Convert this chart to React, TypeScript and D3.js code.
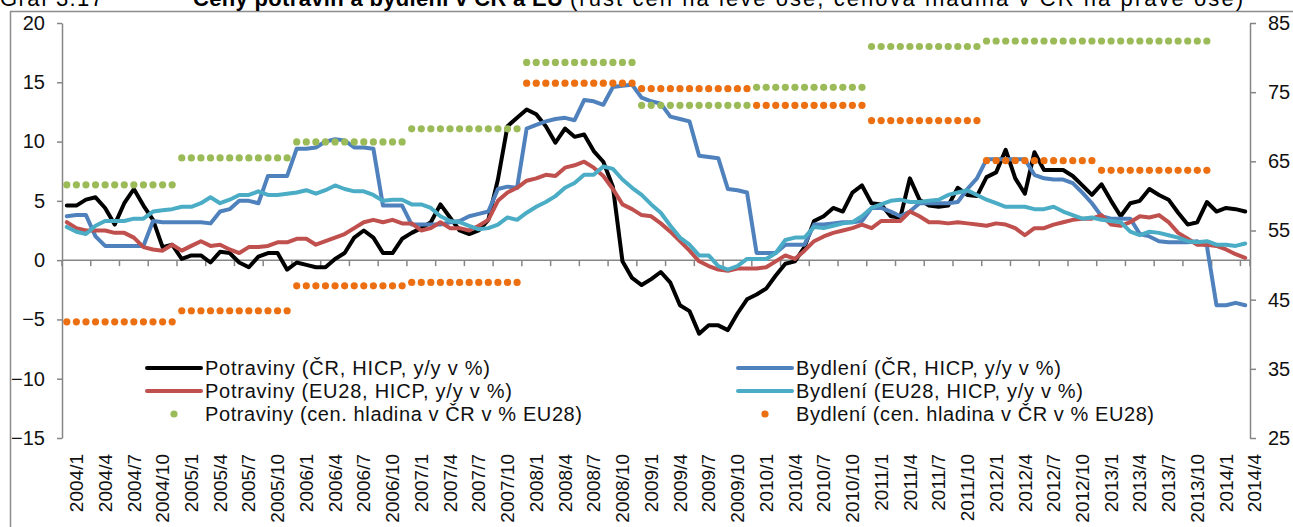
import React, { useEffect, useRef } from 'react';
import * as d3 from 'd3';

// monthly categories 2004/1 .. 2014/4
const months: string[] = [];
for (let y = 2004; y <= 2014; y++) {
  for (let m = 1; m <= 12; m++) {
    if (y === 2014 && m > 4) break;
    months.push(`${y}/${m}`);
  }
}

// y/y growth, % (left axis)
const potravinyCR = [
  4.6, 4.6, 5.1, 5.3, 4.4, 3.0, 4.8, 6.0, 4.6, 3.4,
  1.1, 1.3, 0.1, 0.4, 0.4, -0.2, 0.7, 0.6, -0.2, -0.6,
  0.3, 0.6, 0.6, -0.8, -0.2, -0.4, -0.6, -0.6, 0.1, 0.6,
  1.9, 2.5, 1.9, 0.6, 0.6, 1.8, 2.3, 2.7, 3.2, 4.7,
  3.6, 2.5, 2.2, 2.5, 3.4, 6.8, 11.3, 12.0, 12.7, 12.3,
  11.3, 9.9, 11.1, 10.4, 10.6, 9.2, 8.3, 6.2, -0.1, -1.5,
  -2.1, -1.6, -1.0, -1.9, -3.8, -4.3, -6.2, -5.5, -5.5, -5.9,
  -4.5, -3.3, -2.9, -2.4, -1.3, -0.3, -0.1, 1.1, 3.3, 3.7,
  4.4, 4.1, 5.7, 6.3, 4.8, 4.7, 3.7, 3.6, 6.9, 5.1,
  4.6, 4.5, 4.6, 6.1, 5.5, 5.4, 7.0, 7.4, 9.3, 6.9,
  5.6, 9.1, 7.6, 7.6, 7.6, 7.1, 6.3, 5.5, 6.4, 5.0,
  3.7, 4.8, 5.0, 6.0, 5.5, 5.1, 4.0, 3.0, 3.2, 4.9,
  4.1, 4.4, 4.3, 4.1,
];
const bydleniCR = [
  3.7, 3.8, 3.8, 2.0, 1.2, 1.2, 1.2, 1.2, 1.2, 3.3,
  3.2, 3.2, 3.2, 3.2, 3.2, 3.1, 4.1, 4.3, 5.0, 5.0,
  4.8, 7.1, 7.1, 7.1, 9.4, 9.4, 9.5, 10.0, 10.2, 10.1,
  9.5, 9.5, 9.4, 4.6, 4.6, 4.6, 3.0, 3.0, 3.0, 3.0,
  3.2, 3.3, 3.7, 3.9, 4.1, 6.0, 6.2, 6.1, 11.1, 11.4,
  11.7, 11.9, 12.0, 11.8, 13.5, 13.4, 13.1, 14.6, 14.7, 14.8,
  13.7, 13.4, 13.2, 12.1, 11.9, 11.7, 8.8, 8.7, 8.6, 6.0,
  5.9, 5.7, 0.6, 0.6, 0.6, 1.3, 1.3, 1.3, 3.0, 3.0,
  3.1, 3.2, 3.2, 3.3, 4.4, 4.4, 4.1, 3.7, 4.1, 4.8,
  4.8, 4.8, 4.8, 4.9, 6.0, 6.9, 8.5, 8.5, 8.5, 8.5,
  8.5, 7.2, 6.9, 6.8, 6.8, 6.5, 5.7, 4.8, 3.7, 3.5,
  3.5, 3.5, 2.2, 2.0, 1.6, 1.5, 1.5, 1.5, 1.6, 1.2,
  -3.8, -3.8, -3.6, -3.8,
];
const potravinyEU = [
  3.2, 2.7, 2.5, 2.5, 2.5, 2.3, 2.3, 1.9, 1.1, 0.9,
  0.8, 1.3, 0.8, 1.2, 1.6, 1.2, 1.3, 0.9, 0.6, 1.1,
  1.1, 1.2, 1.5, 1.5, 1.8, 1.8, 1.3, 1.6, 1.9, 2.2,
  2.7, 3.2, 3.4, 3.2, 3.4, 3.1, 3.1, 2.5, 2.7, 3.2,
  2.7, 2.7, 2.5, 2.9, 3.4, 5.0, 5.7, 6.1, 6.7, 6.9,
  7.2, 7.1, 7.8, 8.0, 8.3, 7.8, 7.1, 6.0, 4.7, 4.3,
  3.8, 3.7, 3.1, 2.4, 1.6, 0.8, -0.1, -0.5, -0.8, -0.9,
  -0.7, -0.7, -0.7, -0.6, -0.1, 0.4, 0.1, 0.8, 1.6, 2.0,
  2.3, 2.5, 2.7, 3.0, 2.7, 3.3, 3.3, 3.3, 4.1, 3.7,
  3.2, 3.2, 3.1, 3.2, 3.1, 3.0, 2.9, 3.1, 3.0, 2.7,
  2.1, 2.7, 2.7, 3.0, 3.2, 3.4, 3.5, 3.5, 3.8, 3.0,
  2.9, 3.2, 3.7, 3.6, 3.8, 3.2, 2.3, 1.8, 1.3, 1.3,
  1.2, 0.9, 0.5, 0.2,
];
const bydleniEU = [
  2.8, 2.4, 2.2, 2.9, 3.3, 3.3, 3.3, 3.5, 3.5, 4.1,
  4.2, 4.3, 4.5, 4.5, 4.8, 5.3, 4.8, 5.1, 5.5, 5.5,
  5.8, 5.5, 5.5, 5.6, 5.7, 5.9, 5.6, 5.9, 6.3, 6.0,
  5.8, 5.8, 5.5, 5.0, 5.1, 5.1, 4.7, 4.7, 4.4, 3.7,
  3.3, 3.2, 2.9, 2.6, 2.7, 3.0, 3.6, 3.4, 4.0, 4.5,
  4.9, 5.4, 6.1, 6.5, 7.2, 7.2, 7.9, 7.7, 6.8, 6.1,
  5.5, 4.7, 4.0, 2.9, 1.9, 1.3, 0.4, 0.4, -0.5, -0.8,
  -0.5, 0.1, 0.1, 0.1, 0.6, 1.7, 1.9, 1.9, 2.8, 2.7,
  2.9, 3.1, 3.2, 3.7, 4.4, 4.7, 5.0, 5.1, 4.9, 4.9,
  5.0, 5.1, 5.5, 5.7, 5.9, 5.5, 5.1, 4.8, 4.5, 4.5,
  4.5, 4.3, 4.3, 4.5, 4.1, 3.8, 3.5, 3.6, 3.4, 3.3,
  3.2, 2.4, 2.1, 2.4, 2.3, 2.1, 1.9, 1.6, 1.5, 1.6,
  1.3, 1.3, 1.2, 1.4,
];

// price level in CZ, % of EU28 (right axis), one value per year
const levelYears = [2004, 2005, 2006, 2007, 2008, 2009, 2010, 2011, 2012, 2013];
const potravinyLevel = [61.6, 65.5, 67.8, 69.7, 79.3, 73.1, 75.7, 81.6, 82.4, 82.4];
const bydleniLevel = [41.8, 43.4, 47.0, 47.5, 76.3, 75.5, 73.1, 70.9, 65.1, 63.7];

const leftTicks = [-15, -10, -5, 0, 5, 10, 15, 20];
const rightTicks = [25, 35, 45, 55, 65, 75, 85];

const FONT = '"Liberation Sans", Arial, sans-serif';
const GRID = '#868686';

function App() {
  const ref = useRef<SVGSVGElement>(null);

  useEffect(() => {
    const svg = d3.select(ref.current);
    svg.selectAll('*').remove();

    const x = d3.scaleBand<string>().domain(months).range([62, 1250]);
    const bw = x.bandwidth();
    const cx = (i: number) => (x(months[i]) as number) + bw / 2;
    const yL = d3.scaleLinear().domain([-15, 20]).range([438, 23]);
    const yR = d3.scaleLinear().domain([25, 85]).range([438, 23]);

    // frame + title (title is clipped by the top edge, as in the source)
    svg.append('line').attr('x1', 10).attr('x2', 1293).attr('y1', 11.5).attr('y2', 11.5)
      .attr('stroke', '#8c8c8c').attr('stroke-width', 1.5);
    svg.append('line').attr('x1', 10.5).attr('x2', 10.5).attr('y1', 11).attr('y2', 527)
      .attr('stroke', '#8c8c8c').attr('stroke-width', 1.5);

    const title = svg.append('g').attr('font-family', FONT).attr('font-size', 22).attr('fill', '#000');
    title.append('text').attr('x', 0).attr('y', 6).attr('textLength', 103).text('Graf 3.17');
    title.append('text').attr('x', 193).attr('y', 6).attr('font-weight', 'bold')
      .attr('textLength', 370).text('Ceny potravin a bydlení v ČR a EU');
    title.append('text').attr('x', 570).attr('y', 6).attr('textLength', 673)
      .text('(růst cen na levé ose, cenová hladina v ČR na pravé ose)');

    // left axis
    const gl = svg.append('g').attr('transform', 'translate(62,0)')
      .call(d3.axisLeft(yL).tickValues(leftTicks).tickSize(5).tickSizeOuter(0).tickPadding(12));
    // right axis
    const gr = svg.append('g').attr('transform', 'translate(1250,0)')
      .call(d3.axisRight(yR).tickValues(rightTicks).tickSize(6).tickSizeOuter(0).tickPadding(12));
    [gl, gr].forEach((g) => {
      g.select('.domain').attr('stroke', GRID).attr('stroke-width', 1.5);
      g.selectAll('.tick line').attr('stroke', GRID).attr('stroke-width', 1.5);
      g.selectAll('.tick text').attr('font-family', FONT).attr('font-size', 20).attr('fill', '#111');
    });

    // category axis at zero
    const y0 = yL(0);
    const gx = svg.append('g');
    gx.append('line').attr('x1', 62).attr('x2', 1250).attr('y1', y0).attr('y2', y0)
      .attr('stroke', GRID).attr('stroke-width', 1.5);
    const tickIdx = d3.range(0, months.length, 3);
    gx.selectAll('line.tk').data([...tickIdx, months.length]).enter().append('line')
      .attr('class', 'tk')
      .attr('x1', (d) => 62 + d * bw).attr('x2', (d) => 62 + d * bw)
      .attr('y1', y0).attr('y2', y0 + 6)
      .attr('stroke', GRID).attr('stroke-width', 1.5);
    gx.selectAll('text').data(tickIdx).enter().append('text')
      .attr('transform', (d) => `translate(${(x(months[d]) as number) + 1.5 * bw},454) rotate(-90)`)
      .attr('dy', '0.35em')
      .attr('text-anchor', 'end')
      .attr('font-family', FONT).attr('font-size', 19).attr('fill', '#111')
      .text((d) => months[d]);

    // lines
    const line = d3.line<number>().x((_, i) => cx(i)).y((d) => yL(d));
    const lineSeries: [number[], string][] = [
      [potravinyCR, '#000000'],
      [bydleniCR, '#4F81BD'],
      [potravinyEU, '#C0504D'],
      [bydleniEU, '#4BACC6'],
    ];
    lineSeries.forEach(([data, color]) => {
      svg.append('path').datum(data).attr('d', line)
        .attr('fill', 'none').attr('stroke', color).attr('stroke-width', 4)
        .attr('stroke-linejoin', 'round').attr('stroke-linecap', 'round');
    });

    // price level dots, one per month of each year
    const dotSeries: [number[], string][] = [
      [potravinyLevel, '#9BBB59'],
      [bydleniLevel, '#EC6F12'],
    ];
    dotSeries.forEach(([vals, color]) => {
      const pts: { i: number; v: number }[] = [];
      months.forEach((m, i) => {
        const k = levelYears.indexOf(+m.split('/')[0]);
        if (k >= 0) pts.push({ i, v: vals[k] });
      });
      svg.append('g').selectAll('circle').data(pts).enter().append('circle')
        .attr('cx', (d) => cx(d.i)).attr('cy', (d) => yR(d.v)).attr('r', 3.6)
        .attr('fill', color);
    });

    // legend
    const legend = [
      { label: 'Potraviny (ČR, HICP, y/y v %)', color: '#000000', dot: false, lx: 147, ly: 368, w: 285 },
      { label: 'Potraviny (EU28, HICP, y/y v %)', color: '#C0504D', dot: false, lx: 147, ly: 391, w: 307 },
      { label: 'Potraviny (cen. hladina v ČR v % EU28)', color: '#9BBB59', dot: true, lx: 147, ly: 414, w: 377 },
      { label: 'Bydlení (ČR, HICP, y/y v %)', color: '#4F81BD', dot: false, lx: 738, ly: 368, w: 265 },
      { label: 'Bydlení (EU28, HICP, y/y v %)', color: '#4BACC6', dot: false, lx: 738, ly: 391, w: 287 },
      { label: 'Bydlení (cen. hladina v ČR v % EU28)', color: '#EC6F12', dot: true, lx: 738, ly: 414, w: 358 },
    ];
    const lg = svg.append('g');
    legend.forEach((d) => {
      if (d.dot) {
        lg.append('circle').attr('cx', d.lx + 27).attr('cy', d.ly).attr('r', 3.6).attr('fill', d.color);
      } else {
        lg.append('line').attr('x1', d.lx).attr('x2', d.lx + 54).attr('y1', d.ly).attr('y2', d.ly)
          .attr('stroke', d.color).attr('stroke-width', 4).attr('stroke-linecap', 'round');
      }
      lg.append('text').attr('x', d.lx + 58).attr('y', d.ly).attr('dy', '0.35em')
        .attr('textLength', d.w).attr('lengthAdjust', 'spacing')
        .attr('font-family', FONT).attr('font-size', 20).attr('fill', '#111').text(d.label);
    });
  }, []);

  return (
    <svg
      ref={ref}
      width={1293}
      height={527}
      style={{ position: 'absolute', left: 0, top: 0, background: '#fff' }}
    />
  );
}

export default App;
